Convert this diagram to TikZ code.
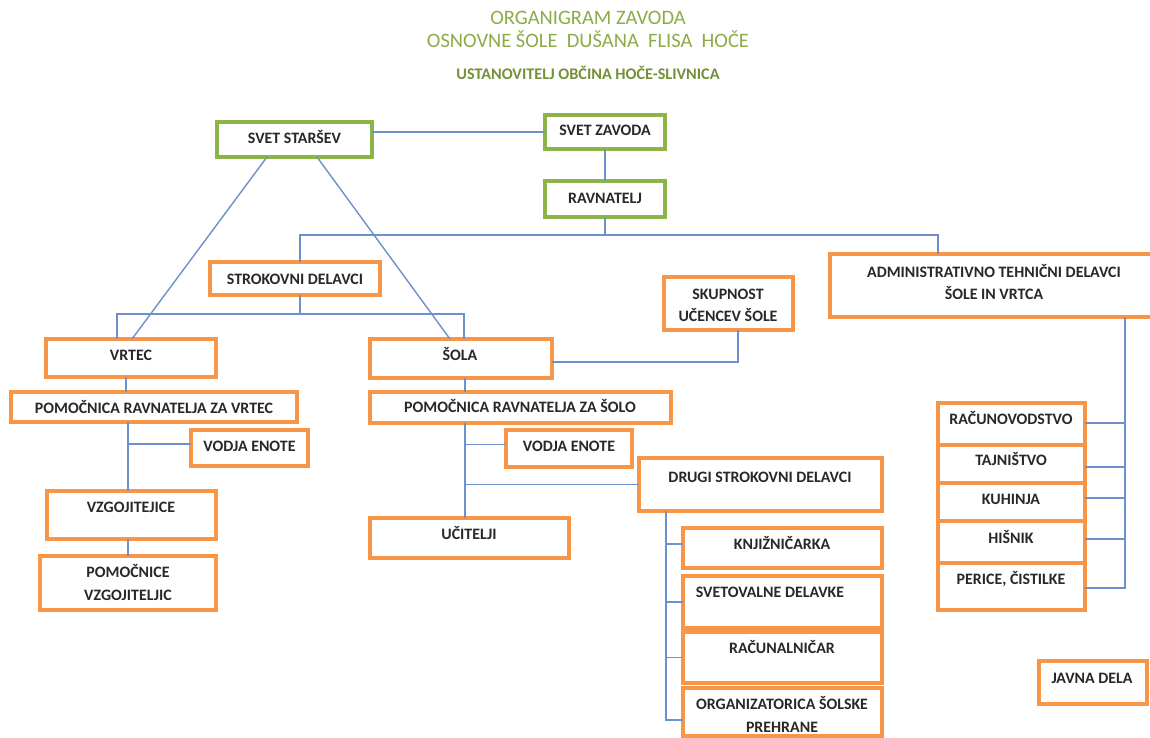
\documentclass[tikz,border=0pt]{standalone}
\usepackage{fontspec}
\setmainfont{Carlito}
\definecolor{gboxc}{RGB}{140,180,70}
\definecolor{oboxc}{RGB}{247,150,70}
\definecolor{connc}{RGB}{110,145,205}
\definecolor{ttlc}{RGB}{140,172,72}
\definecolor{subc}{RGB}{115,145,55}
\definecolor{txtc}{RGB}{40,40,40}
\newcommand\mybox[6]{\node[#2, minimum width={#5-#3}, minimum height={#6-#4}] (#1) at ({(#3+#5)/2},{(#4+#6)/2}) {};}
\newcommand\mytx[4]{\node[txt] (#1) at (#2,#3) {#4};}
\begin{document}
\begin{tikzpicture}[x=1pt,y=-1pt,
  greenbox/.style={draw=gboxc,line width=3.2pt,inner sep=0pt,outer sep=0pt},
  orangebox/.style={draw=oboxc,line width=3.2pt,inner sep=0pt,outer sep=0pt},
  txt/.style={anchor=base,inner sep=0pt,text=txtc,font=\bfseries\fontsize{15.9}{19}\selectfont},
  ttl/.style={anchor=base,inner sep=0pt,text=ttlc,font=\fontsize{20.5}{24}\selectfont},
  subt/.style={anchor=base,inner sep=0pt,text=subc,font=\bfseries\fontsize{16.2}{19}\selectfont},
  ln/.style={draw=connc,line width=1.4pt}]
\fill[white] (0,0) rectangle (1150,738);
\useasboundingbox (0,0) rectangle (1150,738);

% titles
\node[ttl] (t1) at (588,25) {ORGANIGRAM ZAVODA};
\node[ttl] (t2) at (588,48) {OSNOVNE ŠOLE\ \ DUŠANA\ \ FLISA\ \ HOČE};
\node[subt] (t3) at (588,80) {USTANOVITELJ OBČINA HOČE-SLIVNICA};

% boxes
\mybox{ss}{greenbox}{217}{122}{372}{157}
\mybox{sz}{greenbox}{545}{115}{665}{149}
\mybox{rv}{greenbox}{545}{181}{665}{217}
\mybox{sd}{orangebox}{210}{262}{380}{295}
\mybox{vr}{orangebox}{46}{339}{216}{377}
\mybox{so}{orangebox}{370}{339}{552}{378}
\mybox{sk}{orangebox}{664}{277}{793}{330}
\mybox{adm}{orangebox}{830}{254}{1158}{317}
\mybox{pv}{orangebox}{11}{392}{297}{422}
\mybox{ve1}{orangebox}{191}{430}{308}{466}
\mybox{vz}{orangebox}{47}{491}{216}{539}
\mybox{pc}{orangebox}{40}{556}{216}{610}
\mybox{ps}{orangebox}{370}{392}{671}{423}
\mybox{ve2}{orangebox}{506}{430}{632}{467}
\mybox{dr}{orangebox}{639}{458}{882}{511}
\mybox{uc}{orangebox}{370}{518}{569}{558}
\mybox{kn}{orangebox}{683}{528}{882}{568}
\mybox{sv}{orangebox}{683}{576}{882}{628}
\mybox{rc}{orangebox}{683}{632}{882}{683}
\mybox{og}{orangebox}{683}{688}{882}{736}
\mybox{ra}{orangebox}{938}{403}{1085}{445}
\mybox{tj}{orangebox}{938}{445}{1085}{483}
\mybox{ku}{orangebox}{938}{483}{1085}{521}
\mybox{hi}{orangebox}{938}{521}{1085}{563}
\mybox{pe}{orangebox}{938}{563}{1085}{610}
\mybox{jd}{orangebox}{1039}{661}{1147}{704}

% texts
\mytx{tss}{294.5}{144}{SVET STARŠEV}
\mytx{tsz}{605}{136}{SVET ZAVODA}
\mytx{trv}{605}{203}{RAVNATELJ}
\mytx{tsd}{295}{284}{STROKOVNI DELAVCI}
\mytx{tvr}{131}{360}{VRTEC}
\mytx{tso}{460}{360}{ŠOLA}
\mytx{tsk1}{728}{299}{SKUPNOST}
\mytx{tsk2}{728}{321}{UČENCEV ŠOLE}
\mytx{tadm1}{994}{277}{ADMINISTRATIVNO TEHNIČNI DELAVCI}
\mytx{tadm2}{994}{299}{ŠOLE IN VRTCA}
\mytx{tpv}{154}{413}{POMOČNICA RAVNATELJA ZA VRTEC}
\mytx{tve1}{249.5}{451}{VODJA ENOTE}
\mytx{tvz}{131}{512}{VZGOJITEJICE}
\mytx{tpc1}{128}{577}{POMOČNICE}
\mytx{tpc2}{128}{600}{VZGOJITELJIC}
\mytx{tps}{520}{412}{POMOČNICA RAVNATELJA ZA ŠOLO}
\mytx{tve2}{569}{451}{VODJA ENOTE}
\mytx{tdr}{760}{482}{DRUGI STROKOVNI DELAVCI}
\mytx{tuc}{469}{539}{UČITELJI}
\mytx{tkn}{782}{549}{KNJIŽNIČARKA}
\mytx{tsv}{770}{597}{SVETOVALNE DELAVKE}
\mytx{trc}{782}{653}{RAČUNALNIČAR}
\mytx{tog1}{782}{709}{ORGANIZATORICA ŠOLSKE}
\mytx{tog2}{782}{732}{PREHRANE}
\mytx{tra}{1011}{424}{RAČUNOVODSTVO}
\mytx{ttj}{1011}{465}{TAJNIŠTVO}
\mytx{tku}{1011}{504}{KUHINJA}
\mytx{thi}{1011}{543}{HIŠNIK}
\mytx{tpe}{1011}{584}{PERICE, ČISTILKE}
\mytx{tjd}{1092}{683}{JAVNA DELA}

% connectors
\draw[ln] (sz.west) -- (sz.west -| ss.east);
\draw[ln] (sz.south) -- (rv.north);
\coordinate (busA) at (605,235);
\draw[ln] (rv.south) -- (busA);
\draw[ln] ([xshift=5pt]sd.north) |- (busA) -| ([xshift=108pt]adm.north west);
\coordinate (busB) at (300,314);
\draw[ln] ([xshift=5pt]sd.south) -- (busB);
\draw[ln] ([xshift=71pt]vr.north west) |- (busB) -| ([xshift=94pt]so.north west);
\draw[ln] ([xshift=50pt]ss.south west) -- ([xshift=86pt]vr.north west);
\draw[ln] ([xshift=100pt]ss.south west) -- ([xshift=80pt]so.north west);
\draw[ln] ([xshift=74pt]sk.south west) |- ([yshift=-3.5pt]so.east);
% vrtec branch
\draw[ln] ([xshift=80pt]vr.south west) -- ([xshift=80pt]vr.south west |- pv.north);
\coordinate (vbus) at ([xshift=81pt]vz.north west);
\draw[ln] (vbus) -- (vbus |- pv.south);
\draw[ln] ([yshift=4pt]ve1.west) -- ([yshift=4pt]ve1.west -| vbus);
\draw[ln] ([xshift=81pt]vz.south west) -- ([xshift=81pt]vz.south west |- pc.north);
% sola branch
\draw[ln] ([xshift=95pt]so.south west) -- ([xshift=95pt]so.south west |- ps.north);
\coordinate (sbus) at ([xshift=95pt]uc.north west);
\draw[ln] (sbus) -- (sbus |- ps.south);
\draw[ln] ([yshift=4pt]ve2.west) -- ([yshift=4pt]ve2.west -| sbus);
\draw[ln] (dr.west) -- (dr.west -| sbus);
% drugi strokovni delavci
\coordinate (dbus) at ([xshift=27pt]dr.south west);
\draw[ln] (dbus) |- ([yshift=4pt]kn.west);
\draw[ln] (dbus) |- (sv.west);
\draw[ln] (dbus) |- (rc.west);
\draw[ln] (dbus) |- ([yshift=-8pt]og.west);
% administrativno tehnicni
\coordinate (abus) at ([xshift=295pt]adm.south west);
\draw[ln] (abus) |- ([yshift=1pt]ra.east);
\draw[ln] (abus) |- ([yshift=-3pt]tj.east);
\draw[ln] (abus) |- ([yshift=4pt]ku.east);
\draw[ln] (abus) |- ([yshift=3pt]hi.east);
\draw[ln] (abus) |- ([yshift=-1.5pt]pe.east);
\end{tikzpicture}
\end{document}
